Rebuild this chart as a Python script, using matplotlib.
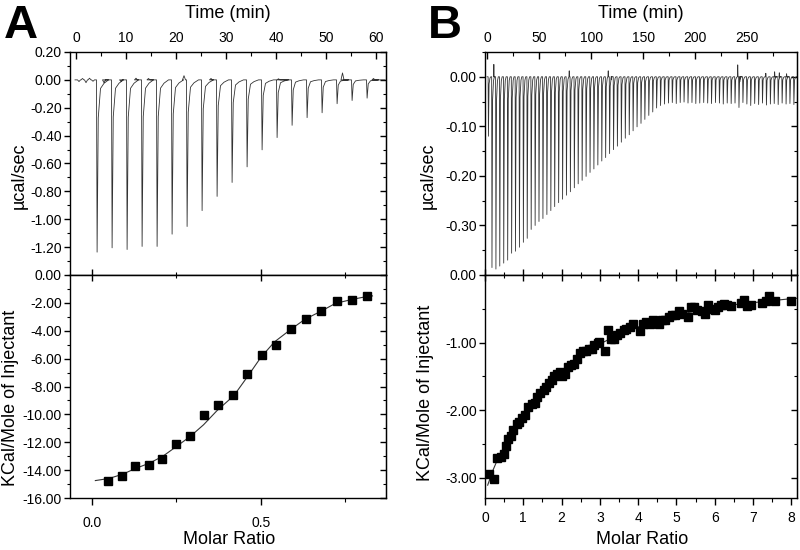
import numpy as np
import matplotlib.pyplot as plt
from matplotlib.ticker import MultipleLocator, FixedLocator, FormatStrFormatter

plt.rcParams['font.family'] = ['Liberation Sans', 'DejaVu Sans']
plt.rcParams['axes.unicode_minus'] = False

# ---- panel A, raw injections (time in min, peak in ucal/sec)
a_inj_t = [4.1, 7.1, 10.1, 13.1, 16.1, 19.1, 22.1, 25.1, 28.1, 31.1,
           34.1, 37.1, 40.1, 43.1, 46.1, 49.1, 52.1, 55.1, 58.1]
a_inj_h = [-1.236, -1.205, -1.217, -1.195, -1.195, -1.107, -1.052, -0.938, -0.836, -0.736,
           -0.624, -0.502, -0.414, -0.326, -0.271, -0.236, -0.171, -0.148, -0.131]
a_bump_t = [0.6, 1.3, 2.0, 2.7, 3.4, 5.6, 9.0, 12.0, 14.5, 21.6, 27.0, 40.5, 53.3, 59.5]
a_bump_h = [-0.012, 0.01, -0.02, 0.012, -0.01, -0.02, -0.01, 0.012, 0.01, 0.03, 0.01, 0.008, 0.05, 0.01]

# ---- panel A, integrated heats
a_ratio = [0.048, 0.088, 0.127, 0.169, 0.208, 0.249, 0.290, 0.331, 0.374, 0.416,
           0.458, 0.502, 0.544, 0.589, 0.633, 0.678, 0.724, 0.768, 0.813]
a_heat = [-14.75, -14.40, -13.68, -13.65, -13.17, -12.15, -11.52, -10.07, -9.35, -8.61,
          -7.08, -5.74, -5.00, -3.87, -3.18, -2.61, -1.89, -1.77, -1.51]
a_fit_x = [0.01, 0.05, 0.09, 0.13, 0.17, 0.21, 0.25, 0.29, 0.33, 0.37, 0.42,
           0.46, 0.50, 0.54, 0.59, 0.63, 0.68, 0.72, 0.77, 0.81, 0.83]
a_fit_y = [-14.75, -14.6, -14.3, -13.87, -13.5, -13.0, -12.3, -11.6, -10.75, -9.73, -8.65,
           -7.3, -5.9, -4.8, -3.87, -3.18, -2.57, -2.04, -1.75, -1.56, -1.5]

# ---- panel B, raw injections
b_inj_t = [1.0, 4.4, 8.2, 11.9, 15.7, 19.5, 23.3, 27.0, 30.8, 34.6, 38.3,
           42.1, 45.9, 49.6, 53.4, 57.2, 61.0, 64.7, 68.5, 72.3, 76.0,
           79.8, 83.6, 87.3, 91.1, 94.9, 98.7, 102.4, 106.2, 110.0, 113.7,
           117.5, 121.3, 125.0, 128.8, 132.6, 136.4, 140.1, 143.9, 147.7, 151.4,
           155.2, 159.0, 162.7, 166.5, 170.3, 174.1, 177.8, 181.6, 185.4, 189.1,
           192.9, 196.7, 200.4, 204.2, 208.0, 211.8, 215.5, 219.3, 223.1, 226.8,
           230.6, 234.4, 238.1, 241.9, 245.7, 249.5, 253.2, 257.0, 260.8, 264.5,
           268.3, 272.1, 275.8, 279.6, 283.4, 287.2, 290.9, 294.7]
b_inj_h = [-0.120, -0.385, -0.388, -0.382, -0.376, -0.370, -0.356, -0.352, -0.344, -0.334, -0.326,
           -0.308, -0.300, -0.292, -0.286, -0.278, -0.270, -0.262, -0.254, -0.247, -0.239,
           -0.232, -0.224, -0.216, -0.209, -0.201, -0.193, -0.186, -0.178, -0.170, -0.163,
           -0.155, -0.147, -0.140, -0.132, -0.124, -0.117, -0.109, -0.101, -0.094, -0.086,
           -0.078, -0.071, -0.063, -0.058, -0.055, -0.053, -0.052, -0.054, -0.052, -0.051,
           -0.053, -0.052, -0.054, -0.053, -0.052, -0.053, -0.054, -0.052, -0.053, -0.055,
           -0.053, -0.054, -0.053, -0.062, -0.052, -0.055, -0.058, -0.054, -0.056, -0.053,
           -0.057, -0.055, -0.054, -0.056, -0.053, -0.055, -0.054, -0.056]
b_bump_t = [6.5, 79.0, 116.5, 119.5, 241.0, 243.0, 268.0, 276.5, 281.0, 288.0]
b_bump_h = [0.025, 0.012, 0.012, -0.006, 0.024, -0.01, 0.007, 0.01, 0.008, 0.006]

# ---- panel B, integrated heats
b_ratio = [0.11, 0.24, 0.31, 0.42, 0.50, 0.55, 0.61, 0.68, 0.74, 0.83, 0.90, 0.97, 1.05, 1.13,
           1.23, 1.31, 1.37, 1.44, 1.53, 1.60, 1.66, 1.75, 1.81, 1.88, 1.95, 2.02, 2.09, 2.18,
           2.25, 2.33, 2.40, 2.49, 2.56, 2.63, 2.71, 2.79, 2.85, 2.94, 2.99, 3.14, 3.21, 3.29,
           3.38, 3.45, 3.53, 3.62, 3.69, 3.78, 3.87, 4.04, 4.13, 4.21, 4.30, 4.38, 4.47, 4.54,
           4.62, 4.71, 4.80, 4.89, 4.97, 5.06, 5.15, 5.30, 5.38, 5.47, 5.54, 5.67, 5.74, 5.82,
           5.91, 6.00, 6.08, 6.17, 6.24, 6.33, 6.43, 6.68, 6.76, 6.85, 6.94, 7.24, 7.33, 7.42,
           7.57, 8.00]
b_heat = [-2.94, -3.02, -2.71, -2.70, -2.65, -2.53, -2.42, -2.38, -2.29, -2.20, -2.17, -2.12, -2.07, -1.96,
          -1.91, -1.90, -1.80, -1.75, -1.70, -1.65, -1.60, -1.55, -1.49, -1.46, -1.43, -1.49, -1.46, -1.36,
          -1.33, -1.31, -1.25, -1.16, -1.13, -1.13, -1.10, -1.09, -1.04, -1.00, -0.99, -1.13, -0.81, -0.94,
          -0.94, -0.89, -0.86, -0.82, -0.80, -0.77, -0.73, -0.83, -0.72, -0.70, -0.72, -0.67, -0.68, -0.72,
          -0.67, -0.66, -0.62, -0.59, -0.59, -0.54, -0.57, -0.62, -0.47, -0.47, -0.52, -0.54, -0.57, -0.44,
          -0.51, -0.52, -0.48, -0.44, -0.43, -0.44, -0.46, -0.42, -0.37, -0.46, -0.44, -0.42, -0.39, -0.31,
          -0.38, -0.39]
b_fit_x = [0.07, 0.2, 0.35, 0.5, 0.75, 1.0, 1.25, 1.6, 2.0, 2.5, 3.0, 3.5, 4.0, 4.5,
           5.0, 5.5, 6.0, 6.5, 7.0, 7.5, 8.0, 8.15]
b_fit_y = [-3.11, -2.9, -2.7, -2.55, -2.32, -2.13, -1.96, -1.68, -1.43, -1.2, -1.02, -0.88, -0.77, -0.67,
           -0.6, -0.53, -0.48, -0.44, -0.41, -0.38, -0.35, -0.345]


def thermogram(t0, t1, inj_t, inj_h, bump_t, bump_h, offs, frac):
    # piecewise trace: flat baseline, a spike shape at each injection, small wiggles
    feats = []
    for t, h in zip(inj_t, inj_h):
        feats.append([(t + o, h * f) for o, f in zip(offs, frac)])
    for t, h in zip(bump_t, bump_h):
        feats.append([(t - 0.3, 0.0), (t, h), (t + 0.3, 0.0)])
    feats.sort(key=lambda s: s[0][0])
    pts = [(t0, 0.0)]
    for s in feats:
        pts += s
    pts.append((t1, 0.0))
    pts = np.array(pts)
    return pts[:, 0], pts[:, 1]


def px(x0, y0, x1, y1):
    return [x0 / 800, 1 - y1 / 550, (x1 - x0) / 800, (y1 - y0) / 550]


fig = plt.figure(figsize=(8, 5.5), dpi=100)
axA1 = fig.add_axes(px(70, 52, 386, 275))
axA2 = fig.add_axes(px(70, 275, 386, 498))
axB1 = fig.add_axes(px(485, 52, 797, 275))
axB2 = fig.add_axes(px(485, 275, 797, 498))

for ax in (axA1, axA2, axB1, axB2):
    for sp in ax.spines.values():
        sp.set_linewidth(1.0)


def style_raw(ax, xmaj, xmin, yticks, ymin):
    ax.xaxis.tick_top()
    ax.xaxis.set_major_locator(MultipleLocator(xmaj))
    ax.xaxis.set_minor_locator(MultipleLocator(xmin))
    ax.tick_params(axis='x', which='both', direction='in', top=True, bottom=False,
                   labeltop=True, labelbottom=False, labelsize=10, pad=5)
    ax.tick_params(axis='x', which='major', length=5, width=1)
    ax.tick_params(axis='x', which='minor', length=3, width=0.8)
    ax.yaxis.set_major_locator(FixedLocator(yticks))
    ax.yaxis.set_minor_locator(MultipleLocator(ymin))
    ax.yaxis.set_major_formatter(FormatStrFormatter('%.2f'))
    ax.tick_params(axis='y', which='both', direction='out', right=False, labelsize=10, pad=2)
    ax.tick_params(axis='y', which='major', length=4, width=1)
    ax.tick_params(axis='y', which='minor', length=2.5, width=0.8)
    sec = ax.secondary_yaxis('right')
    sec.yaxis.set_major_locator(FixedLocator(yticks))
    sec.yaxis.set_minor_locator(MultipleLocator(ymin))
    sec.tick_params(which='both', direction='in', labelright=False)
    sec.tick_params(which='major', length=4, width=1)
    sec.tick_params(which='minor', length=2.5, width=0.8)


def style_fit(ax, xmaj, xmin, xfmt, ymaj, ymin, xpad):
    ax.xaxis.set_major_locator(MultipleLocator(xmaj))
    ax.xaxis.set_minor_locator(MultipleLocator(xmin))
    ax.xaxis.set_major_formatter(FormatStrFormatter(xfmt))
    ax.tick_params(axis='x', which='both', direction='out', top=False, labelsize=10, pad=xpad)
    ax.tick_params(axis='x', which='major', length=5, width=1)
    ax.tick_params(axis='x', which='minor', length=3, width=0.8)
    ax.yaxis.set_major_locator(MultipleLocator(ymaj))
    ax.yaxis.set_minor_locator(MultipleLocator(ymin))
    ax.yaxis.set_major_formatter(FormatStrFormatter('%.2f'))
    ax.tick_params(axis='y', which='both', direction='out', right=False, labelsize=10, pad=2)
    ax.tick_params(axis='y', which='major', length=4, width=1)
    ax.tick_params(axis='y', which='minor', length=2.5, width=0.8)
    secx = ax.secondary_xaxis('top')
    secx.xaxis.set_major_locator(MultipleLocator(xmaj))
    secx.xaxis.set_minor_locator(MultipleLocator(xmin))
    secx.tick_params(which='both', direction='inout', labeltop=False)
    secx.tick_params(which='major', length=8, width=1)
    secx.tick_params(which='minor', length=5, width=0.8)
    secy = ax.secondary_yaxis('right')
    secy.yaxis.set_major_locator(MultipleLocator(ymaj))
    secy.yaxis.set_minor_locator(MultipleLocator(ymin))
    secy.tick_params(which='both', direction='in', labelright=False)
    secy.tick_params(which='major', length=4, width=1)
    secy.tick_params(which='minor', length=2.5, width=0.8)


# ---- A raw
tA, yA = thermogram(-0.2, 61.8, a_inj_t, a_inj_h, a_bump_t, a_bump_h,
                    [0, 0.12, 0.35, 0.8, 1.5, 2.4], [0, 1, 0.22, 0.05, 0.02, 0])
axA1.plot(tA, yA, color='#333333', lw=0.6)
axA1.set_xlim(-1.2, 62)
axA1.set_ylim(-1.4, 0.2)
style_raw(axA1, 10, 5, [-1.2, -1.0, -0.8, -0.6, -0.4, -0.2, 0.0, 0.2], 0.1)

# ---- A fit
axA2.plot(a_fit_x, a_fit_y, color='#333333', lw=0.8)
axA2.plot(a_ratio, a_heat, 's', color='black', ms=5.5)
axA2.set_xlim(-0.065, 0.87)
axA2.set_ylim(-16, 0)
style_fit(axA2, 0.5, 0.25, '%.1f', 2, 1, 8)

# ---- B raw
tB, yB = thermogram(0, 298, b_inj_t, b_inj_h, b_bump_t, b_bump_h,
                    [0, 0.3, 0.9, 1.8, 2.6], [0, 1, 0.12, 0.02, 0])
axB1.plot(tB, yB, color='#333333', lw=0.6)
axB1.set_xlim(-2, 298)
axB1.set_ylim(-0.4, 0.05)
style_raw(axB1, 50, 25, [-0.3, -0.2, -0.1, 0.0], 0.05)

# ---- B fit
axB2.plot(b_fit_x, b_fit_y, color='#333333', lw=0.8)
axB2.plot(b_ratio, b_heat, 's', color='black', ms=5.5)
axB2.set_xlim(0, 8.15)
axB2.set_ylim(-3.3, 0)
style_fit(axB2, 1, 0.5, '%d', 1, 0.5, 4)

# ---- labels
fig.text(0.005, 1 - 38 / 550, 'A', fontsize=34, fontweight='bold', va='baseline')
fig.text(428 / 800, 1 - 38 / 550, 'B', fontsize=34, fontweight='bold', va='baseline')
for cx in (228, 641):
    fig.text(cx / 800, 1 - 13 / 550, 'Time (min)', fontsize=13, ha='center', va='center')
    fig.text(cx / 800 + 0.002, 1 - 540 / 550, 'Molar Ratio', fontsize=13, ha='center', va='center')
fig.text(19 / 800, 1 - 176 / 550, 'µcal/sec', fontsize=13, rotation=90, ha='center', va='center')
fig.text(11 / 800, 1 - 398 / 550, 'KCal/Mole of Injectant', fontsize=13, rotation=90, ha='center', va='center')
fig.text(428 / 800, 1 - 176 / 550, 'µcal/sec', fontsize=13, rotation=90, ha='center', va='center')
fig.text(425 / 800, 1 - 393 / 550, 'KCal/Mole of Injectant', fontsize=13, rotation=90, ha='center', va='center')

fig.savefig('out.png', dpi=100)
